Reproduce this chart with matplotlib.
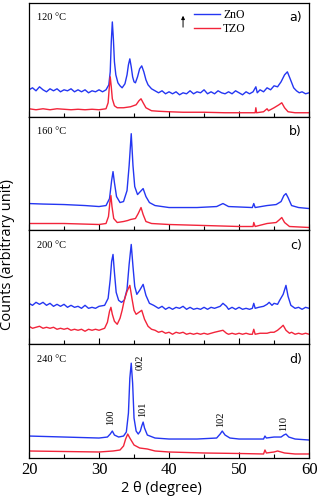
import numpy as np
import matplotlib
matplotlib.use("Agg")
import matplotlib.pyplot as plt

# curves: (2theta, height in panel px above bottom)
a_zno = [(20, 27), (20.5, 29), (21, 26), (21.5, 30), (22, 27), (22.5, 25), (23, 28), (23.5, 26),
         (24, 28), (24.5, 25), (25, 27), (25.5, 26), (26, 28), (26.5, 25), (27, 27), (27.5, 25),
         (28, 27), (28.5, 24), (29, 26), (29.5, 25), (30, 27), (30.5, 25), (31.0, 27),
         (31.4, 32), (31.6, 45), (31.75, 75), (31.9, 95), (32.05, 78), (32.2, 55), (32.4, 42),
         (32.7, 34), (33.0, 31), (33.3, 29), (33.7, 33), (34.0, 42), (34.2, 52), (34.4, 58),
         (34.6, 50), (34.8, 40), (35.0, 35), (35.2, 34), (35.5, 40), (35.8, 48), (36.1, 51),
         (36.4, 45), (36.7, 37), (37.0, 32), (37.5, 28), (38, 26), (38.5, 24), (39, 26),
         (39.5, 23), (40, 25), (40.5, 23), (41, 25), (41.5, 22), (42, 24), (42.5, 23), (43, 26),
         (43.5, 23), (44, 25), (44.5, 24), (45, 27), (45.5, 23), (46, 25), (46.5, 23), (47, 26),
         (47.5, 24), (48, 23), (48.5, 25), (49, 23), (49.5, 26), (50, 24), (50.5, 22), (51, 25),
         (51.5, 23), (52, 25), (52.4, 30), (52.6, 24), (53, 27), (53.5, 25), (54, 29),
         (54.5, 27), (55, 31), (55.5, 30), (56.0, 35), (56.5, 42), (56.9, 45), (57.3, 38),
         (57.8, 29), (58.2, 26), (58.6, 24), (59, 25), (59.5, 23), (60, 24)]
a_tzo = [(20, 8), (21, 7), (22, 8), (23, 7), (24, 8), (25, 7.5), (26, 7), (27, 7.5), (28, 7),
         (29, 7.5), (30, 7), (31.0, 8), (31.3, 14), (31.45, 28), (31.6, 40), (31.75, 30),
         (31.9, 18), (32.2, 11), (32.6, 9), (33.5, 9), (34.5, 10), (35.3, 12), (35.7, 16),
         (36.0, 18), (36.3, 14), (36.7, 9), (37.5, 6), (38.5, 5.5), (40, 5), (42, 4.5),
         (45, 4.5), (48, 4), (50, 4), (52.3, 4), (52.4, 9), (52.5, 4), (53.5, 5), (54.0, 8),
         (54.2, 6), (55, 9), (55.7, 12), (56.1, 14), (56.5, 9), (57, 5), (58, 4), (60, 4)]

b_zno = [(20, 27), (22, 26.5), (25, 26), (28, 25), (30, 24), (31.0, 25), (31.5, 32),
         (31.8, 50), (32.0, 59), (32.2, 48), (32.5, 34), (33.0, 28), (33.5, 29), (34.0, 40),
         (34.3, 65), (34.6, 97), (34.85, 65), (35.1, 44), (35.5, 36), (35.9, 39), (36.3, 42),
         (36.7, 34), (37.2, 28), (38, 25), (40, 23), (44, 23), (46.8, 24), (47.7, 27),
         (48.5, 24), (51.9, 23), (52.1, 27), (52.3, 23), (54, 25), (55.3, 26), (56.0, 29),
         (56.4, 35), (56.7, 37), (57.0, 33), (57.5, 25), (58.5, 23), (60, 22)]
b_tzo = [(20, 7), (25, 7), (30, 6), (31.0, 7), (31.35, 14), (31.55, 28), (31.7, 35),
         (31.85, 24), (32.1, 12), (32.6, 8), (33.5, 9), (34.1, 10), (34.5, 11), (35.2, 12),
         (35.6, 17), (36.0, 23), (36.3, 16), (36.7, 9), (37.5, 7), (40, 6), (45, 5), (50, 4),
         (52.0, 4), (52.1, 8), (52.3, 4), (54, 7), (55.3, 8), (55.8, 11), (56.1, 13),
         (56.5, 8), (57.2, 4), (60, 3)]

c_zno = [(20, 41), (20.5, 39), (21, 42), (21.5, 40), (22, 42), (22.5, 39), (23, 41),
         (23.5, 38), (24, 40), (24.5, 38), (25, 40), (25.5, 37), (26, 39), (26.5, 37), (27, 38),
         (27.5, 36), (28, 39), (28.5, 36), (29, 37), (29.5, 36), (30, 38), (30.8, 39),
         (31.3, 46), (31.6, 65), (31.8, 83), (32.0, 90), (32.2, 72), (32.45, 52), (32.8, 44),
         (33.2, 42), (33.6, 44), (34.0, 55), (34.3, 80), (34.6, 100), (34.85, 78), (35.1, 58),
         (35.4, 50), (35.8, 54), (36.3, 60), (36.7, 49), (37.2, 41), (37.8, 39), (38.5, 36),
         (39, 38), (39.5, 35), (40, 37), (40.5, 35), (41, 37), (41.5, 36), (42, 38), (42.5, 35),
         (43, 37), (43.5, 35), (44, 36), (44.5, 35), (45, 37), (45.5, 35), (46, 37), (46.5, 36),
         (47.3, 38), (47.7, 41), (48.2, 38), (48.5, 35), (49, 37), (49.5, 35), (50, 37),
         (50.5, 35), (51, 36), (51.5, 35), (51.9, 36), (52.1, 41), (52.3, 36), (52.8, 37),
         (53.5, 38), (54, 40), (54.3, 42), (54.7, 39), (55.0, 41), (55.5, 40), (55.8, 44),
         (56.3, 50), (56.7, 59), (57.0, 48), (57.4, 39), (58, 36), (58.5, 37), (59, 35),
         (59.5, 37), (60, 36)]
c_tzo = [(20, 18), (20.5, 16), (21, 17), (21.5, 18), (22, 16), (22.5, 17), (23, 16),
         (23.5, 17), (24, 15), (24.5, 16), (25, 15), (25.5, 16), (26, 14), (26.5, 15), (27, 14),
         (27.5, 15), (28, 13), (28.5, 15), (29, 14), (29.5, 15), (30, 14), (30.8, 16),
         (31.2, 22), (31.5, 33), (31.7, 37), (31.9, 30), (32.2, 23), (32.6, 20), (33.0, 26),
         (33.3, 34), (33.6, 44), (34.0, 53), (34.4, 59), (34.7, 46), (35.0, 34), (35.3, 30),
         (35.7, 32), (36.1, 34), (36.5, 25), (37.0, 18), (37.5, 15), (38, 14), (38.5, 12),
         (39, 13), (39.5, 11), (40, 12), (40.5, 10), (41, 12), (41.5, 11), (42, 12), (42.5, 10),
         (43, 11), (43.5, 10), (44, 11), (44.5, 10), (45, 11), (45.5, 10), (46, 11), (46.5, 12),
         (47.7, 14), (48.2, 11), (48.5, 10), (49, 11), (49.5, 10), (50, 11), (50.5, 10),
         (51, 11), (51.5, 10), (51.9, 10), (52.1, 15), (52.3, 10), (53, 11), (54, 11),
         (54.5, 12), (55, 12), (55.5, 14), (56.0, 17), (56.3, 19), (56.7, 14), (57.2, 11),
         (57.5, 12), (58, 10), (58.5, 11), (59, 10), (59.5, 11), (60, 10)]

d_zno = [(20, 22), (25, 21), (30, 20), (31.2, 21), (31.6, 24), (31.9, 27), (32.2, 23),
         (32.8, 21), (33.5, 22), (33.9, 26), (34.2, 45), (34.4, 80), (34.6, 95), (34.8, 75),
         (35.0, 40), (35.3, 27), (35.6, 24), (35.9, 27), (36.1, 32), (36.3, 36), (36.5, 30),
         (36.9, 23), (38, 20), (40, 19), (44, 19), (46.8, 20), (47.3, 24), (47.6, 27),
         (48.0, 23), (48.7, 20), (50, 19), (53.5, 19), (53.7, 22), (53.9, 20), (55, 21),
         (56.0, 21), (56.4, 23), (56.7, 24), (57.1, 21), (58, 19), (60, 18)]
d_tzo = [(20, 7), (25, 6.5), (30, 6), (32.0, 7), (33.0, 8), (33.5, 12), (33.8, 19),
         (34.1, 24), (34.4, 20), (35.0, 13), (35.8, 10), (36.9, 9), (38, 7), (40, 6), (45, 5),
         (50, 4.5), (53.5, 4), (53.7, 8), (53.9, 5), (55.0, 6), (55.5, 7), (56.5, 5),
         (58, 4), (60, 4)]

panels = [("120 °C", "a)", a_zno, a_tzo),
          ("160 °C", "b)", b_zno, b_tzo),
          ("200 °C", "c)", c_zno, c_tzo),
          ("240 °C", "d)", d_zno, d_tzo)]

# hkl labels in panel d: (2theta, label centre height, text)
hkl = [(31.6, 41, "100"), (35.9, 96, "002"), (36.3, 49, "101"), (47.3, 39, "102"), (56.3, 35, "110")]

blue = '#2436f2'
red = '#f2243a'
serif = 'Liberation Serif'

fig = plt.figure(figsize=(3.17, 4.99), dpi=100)
gs = fig.add_gridspec(4, 1, left=0.0915, right=0.975, bottom=0.0822, top=0.994, hspace=0)

for k, (temp, tag, zno, tzo) in enumerate(panels):
    ax = fig.add_subplot(gs[k])
    x1, y1 = zip(*zno)
    x2, y2 = zip(*tzo)
    ax.plot(x1, y1, color=blue, lw=1.0, label='ZnO')
    ax.plot(x2, y2, color=red, lw=1.0, label='TZO')
    ax.set_xlim(20, 60)
    ax.set_ylim(0, 114)
    ax.set_yticks([])
    ax.set_xticks([20, 30, 40, 50, 60])
    ax.set_xticks([25, 35, 45, 55], minor=True)
    ax.tick_params(axis='x', which='major', direction='in', length=4, width=0.8)
    ax.tick_params(axis='x', which='minor', direction='in', length=3, width=0.8)
    for s in ax.spines.values():
        s.set_linewidth(0.9)
    ax.text(0.03, 0.87, temp, transform=ax.transAxes, fontsize=7.5, family=serif, va='center')
    ax.text(0.975, 0.87, tag, transform=ax.transAxes, fontsize=9, ha='right', va='center')
    if k < 3:
        ax.set_xticklabels([])
    else:
        for t in ax.get_xticklabels():
            t.set_family(serif)
            t.set_fontsize(12)
        ax.tick_params(axis='x', pad=3)
        for xp, yp, lab in hkl:
            ax.text(xp, yp, lab, rotation=90, ha='center', va='center', fontsize=7.5, family=serif)
    if k == 0:
        ax.legend(loc='upper left', bbox_to_anchor=(0.55, 1.04), frameon=False,
                  prop={'family': serif, 'size': 8.5}, handlelength=2.2, handletextpad=0.3,
                  labelspacing=0.2)
        ax.annotate('', xy=(42.0, 104), xytext=(42.0, 87),
                    arrowprops=dict(arrowstyle='-|>', color='black', lw=0.7, mutation_scale=5))

fig.text(0.025, 0.49, 'Counts (arbitrary unit)', rotation=90, ha='center', va='center',
         fontsize=10.5, family='Open Sans')
fig.text(0.51, 0.022, '2 θ (degree)', ha='center', va='center', fontsize=10.5, family='Open Sans')

fig.savefig('out.png', dpi=100)
